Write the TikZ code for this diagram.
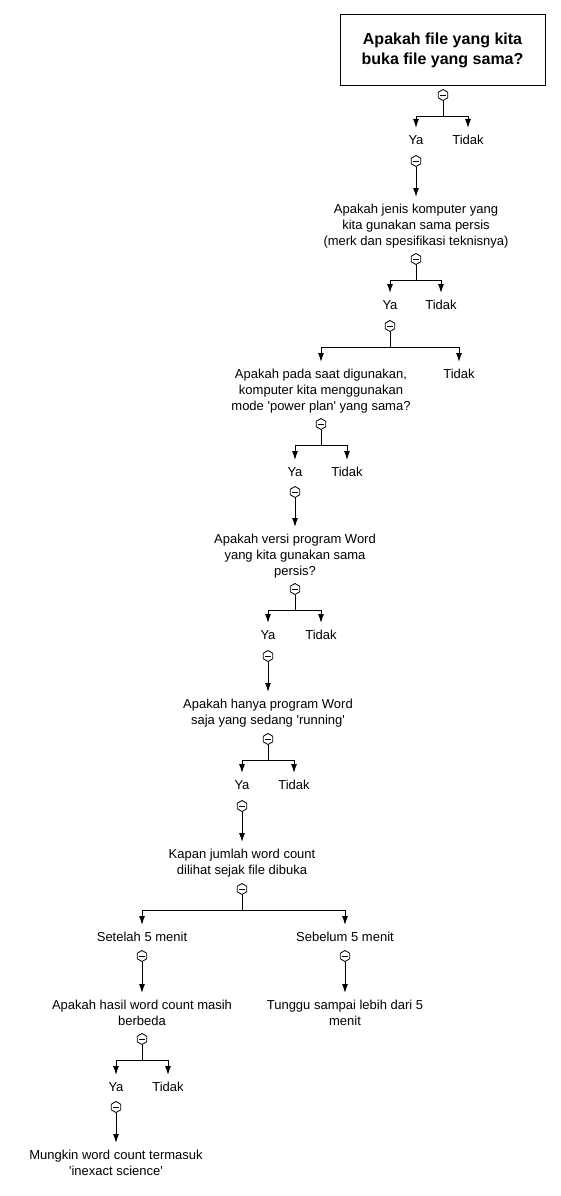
\documentclass[tikz,border=0pt]{standalone}
\usepackage{fontspec}
\setmainfont{Liberation Sans}
\usetikzlibrary{arrows.meta,shapes.geometric}

\begin{document}
\begin{tikzpicture}
	[x=1pt,y=-1pt,line width=1pt,
	txt/.style={anchor=north,align=center,inner xsep=2pt,inner ysep=7pt,font=\fontsize{13}{16}\selectfont},
	fold/.style={draw,fill=white,regular polygon,regular polygon sides=6,shape border rotate=30,minimum size=11pt,inner sep=0pt,line width=0.8pt,
		path picture={\draw[line width=0.8pt] ([xshift=2.2pt]path picture bounding box.west) -- ([xshift=-2.2pt]path picture bounding box.east);}},
	arr/.style={-{Latex[length=9pt,width=6pt]}}]
	\useasboundingbox (0,0) rectangle (560,1196);
	\node[draw,minimum width=205pt,minimum height=71pt,align=center,font=\fontsize{16}{20}\selectfont\bfseries] (q1) at (442.5,50.5) {Apakah file yang kita\\buka file yang sama?};
	\node[fold] (f1) at (443,95) {};
	\node[txt] (y1) at (416,128) {Ya};
	\node[txt] (t1) at (468,128) {Tidak};
	\node[fold] (f2) at (416,161) {};
	\node[txt] (q2) at (416,197) {Apakah jenis komputer yang\\kita gunakan sama persis\\(merk dan spesifikasi teknisnya)};
	\node[fold] (f3) at (416,259) {};
	\node[txt] (y3) at (390,293) {Ya};
	\node[txt] (t3) at (441,293) {Tidak};
	\node[fold] (f4) at (390,326) {};
	\node[txt] (q4) at (321,362) {Apakah pada saat digunakan,\\komputer kita menggunakan\\mode \textquotesingle power plan\textquotesingle{} yang sama?};
	\node[txt] (t4) at (459,362) {Tidak};
	\node[fold] (f5) at (321,424) {};
	\node[txt] (y5) at (295,460) {Ya};
	\node[txt] (t5) at (347,460) {Tidak};
	\node[fold] (f6) at (295,492) {};
	\node[txt] (q6) at (295,527) {Apakah versi program Word\\yang kita gunakan sama\\persis?};
	\node[fold] (f7) at (295,589) {};
	\node[txt] (y7) at (268,623) {Ya};
	\node[txt] (t7) at (321,623) {Tidak};
	\node[fold] (f8) at (268,656) {};
	\node[txt] (q8) at (268,692) {Apakah hanya program Word\\saja yang sedang \textquotesingle running\textquotesingle};
	\node[fold] (f9) at (268,739) {};
	\node[txt] (y9) at (242,773) {Ya};
	\node[txt] (t9) at (294,773) {Tidak};
	\node[fold] (f10) at (242,806) {};
	\node[txt] (q10) at (242,842) {Kapan jumlah word count\\dilihat sejak file dibuka};
	\node[fold] (f11) at (242,889) {};
	\node[txt] (s11) at (142,925) {Setelah 5 menit};
	\node[txt] (b11) at (345,925) {Sebelum 5 menit};
	\node[fold] (f12) at (142,956) {};
	\node[fold] (f13) at (345,956) {};
	\node[txt] (q12) at (142,993) {Apakah hasil word count masih\\berbeda};
	\node[txt] (q13) at (345,993) {Tunggu sampai lebih dari 5\\menit};
	\node[fold] (f14) at (142,1039) {};
	\node[txt] (y14) at (116,1075) {Ya};
	\node[txt] (t14) at (168,1075) {Tidak};
	\node[fold] (f15) at (116,1107) {};
	\node[txt] (q15) at (116,1143) {Mungkin word count termasuk\\\textquotesingle inexact science\textquotesingle};
	
	\foreach \from/\to in {f1/y1,f1/t1,f3/y3,f3/t3,f4/q4,f4/t4,f5/y5,f5/t5,f7/y7,f7/t7,f9/y9,f9/t9,f11/s11,f11/b11,f14/y14,f14/t14}
	\draw[arr] (\from.south) -- ++(0,15.5) -| (\to.north);
	\foreach \from/\to in {f2/q2,f6/q6,f8/q8,f10/q10,f12/q12,f13/q13,f15/q15}
	\draw[arr] (\from.south) -- (\to.north);
\end{tikzpicture}
\end{document}
